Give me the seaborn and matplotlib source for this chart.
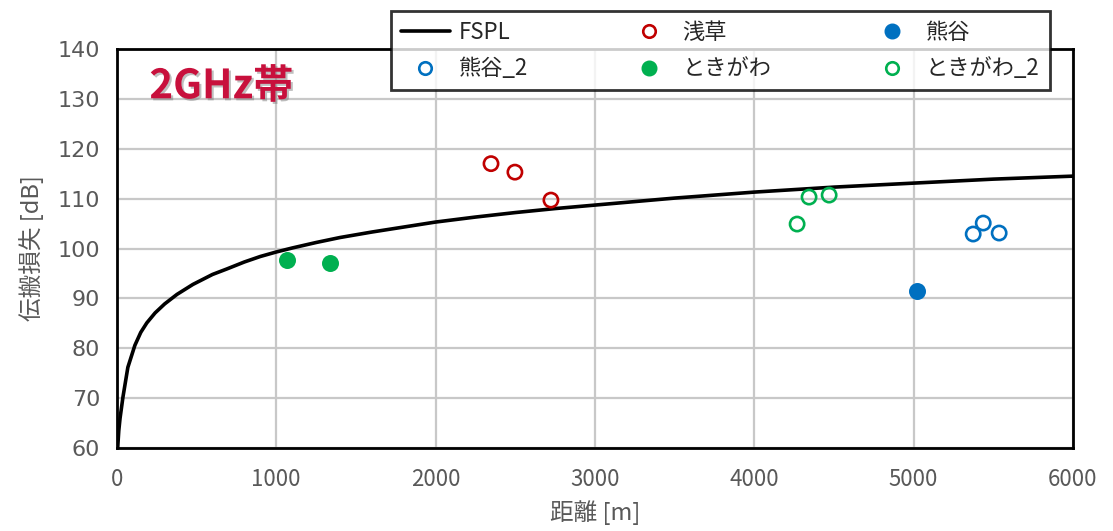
import matplotlib.pyplot as plt
import matplotlib.patheffects as pe
from matplotlib.lines import Line2D
import seaborn as sns

# FSPL curve
fspl_dist = [5, 12, 20, 38, 69, 113, 150, 188, 240, 300, 377, 477, 600, 690, 800, 900,
             1000, 1100, 1250, 1400, 1600, 1800, 2000, 2250, 2500, 2750, 3000, 3500,
             4000, 4500, 5000, 5500, 6000]
fspl_loss = [60.0, 63.5, 66.0, 70.2, 76.2, 80.6, 83.2, 85.1, 87.1, 88.9, 90.8, 92.8,
             94.8, 95.9, 97.3, 98.4, 99.3, 100.1, 101.2, 102.2, 103.3, 104.3, 105.3,
             106.3, 107.2, 108.0, 108.7, 110.1, 111.3, 112.3, 113.1, 113.9, 114.5]

# measured points
asakusa_x = [2348, 2498, 2724]
asakusa_y = [117.0, 115.3, 109.7]
kumagaya_x = [5022]
kumagaya_y = [91.5]
kumagaya2_x = [5374, 5437, 5537]
kumagaya2_y = [102.9, 105.1, 103.1]
tokigawa_x = [1067, 1337]
tokigawa_y = [97.7, 97.1]
tokigawa2_x = [4269, 4344, 4470]
tokigawa2_y = [104.9, 110.3, 110.7]

RED = '#C00000'
BLUE = '#0070C0'
GREEN = '#00B050'
TXT = '#595959'

sns.set_style('white')
plt.rcParams['font.family'] = ['Noto Sans CJK JP', 'DejaVu Sans']

fig = plt.figure(figsize=(11.13, 5.31), dpi=100)
ax = fig.add_axes([0.105, 0.156, 0.859, 0.752])

sns.lineplot(x=fspl_dist, y=fspl_loss, ax=ax, color='black', linewidth=2.6, zorder=3)

hollow = dict(s=105, facecolor='none', linewidth=1.9, zorder=4)
filled = dict(s=150, linewidth=0, zorder=4)
sns.scatterplot(x=asakusa_x, y=asakusa_y, ax=ax, edgecolor=RED, **hollow)
sns.scatterplot(x=kumagaya2_x, y=kumagaya2_y, ax=ax, edgecolor=BLUE, **hollow)
sns.scatterplot(x=tokigawa2_x, y=tokigawa2_y, ax=ax, edgecolor=GREEN, **hollow)
sns.scatterplot(x=kumagaya_x, y=kumagaya_y, ax=ax, color=BLUE, **filled)
sns.scatterplot(x=tokigawa_x, y=tokigawa_y, ax=ax, color=GREEN, **filled)

ax.set_xlim(0, 6000)
ax.set_ylim(60, 140)
ax.set_xticks(range(0, 6001, 1000))
ax.set_yticks(range(60, 141, 10))
ax.grid(True, color='#C8C8C8', linewidth=1.6)
ax.set_axisbelow(True)
for sp in ax.spines.values():
    sp.set_color('black')
    sp.set_linewidth(2.0)
ax.tick_params(axis='both', length=0, labelcolor=TXT)
ax.tick_params(axis='y', pad=12, labelsize=16, labelfontfamily='DejaVu Sans')
ax.tick_params(axis='x', pad=14, labelsize=16)

ax.set_xlabel('距離 [m]', fontsize=17, color=TXT, labelpad=7)
ax.set_ylabel('伝搬損失 [dB]', fontsize=17, color=TXT, labelpad=10)

ax.text(0.034, 0.905, '2GHz帯', transform=ax.transAxes, fontsize=29,
        fontweight='bold', color='#C8103C', va='center', ha='left',
        path_effects=[pe.withSimplePatchShadow(offset=(1.5, -1.5),
                                               shadow_rgbFace='gray', alpha=0.5)])

# legend (column-major fill, so order reads row-wise in picture)
def hmark(c):
    return Line2D([], [], marker='o', linestyle='', markersize=9,
                  markerfacecolor='none', markeredgecolor=c, markeredgewidth=1.9)

def fmark(c):
    return Line2D([], [], marker='o', linestyle='', markersize=10.5,
                  markerfacecolor=c, markeredgecolor=c)

handles = [Line2D([], [], color='black', linewidth=2.6), hmark(BLUE),
           hmark(RED), fmark(GREEN),
           fmark(BLUE), hmark(GREEN)]
labels = ['FSPL', '熊谷_2', '浅草', 'ときがわ', '熊谷', 'ときがわ_2']
leg = fig.legend(handles, labels, ncol=3, loc='upper left',
                 bbox_to_anchor=(0.351, 0.836, 0.592, 0.143), mode='expand',
                 borderaxespad=0,
                 fontsize=16, frameon=True, fancybox=False, edgecolor='black',
                 handlelength=2.2, handletextpad=0.4, borderpad=0.45,
                 labelspacing=0.6, columnspacing=1.0, labelcolor='#262626')
leg.get_frame().set_linewidth(2.0)
leg.set_zorder(10)

fig.savefig('out.png', dpi=100)
